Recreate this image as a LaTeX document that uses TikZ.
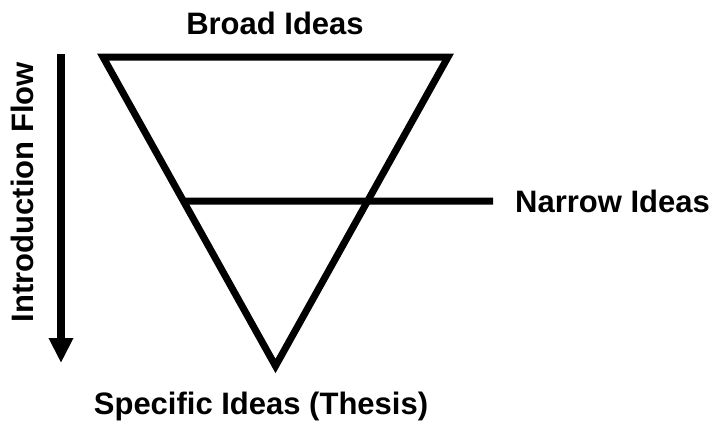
\documentclass[tikz,border=0pt]{standalone}
\usepackage{fontspec}
\setmainfont{Liberation Sans}
\usetikzlibrary{arrows.meta, positioning, calc}
\tikzset{
    label/.style={font=\fontsize{31}{36}\selectfont\bfseries, inner sep=0pt},
    funnel/.style={line width=7pt, line join=miter, draw=black},
    flow/.style={line width=7.5pt, -{Triangle[length=25pt,width=23pt]}, draw=black}
}

\begin{document}
\begin{tikzpicture}[x=1pt, y=1pt]
    \useasboundingbox (0,0) rectangle (716,-424);

    \coordinate (tl) at (103,-57);
    \coordinate (tr) at (448,-57);
    \coordinate (apex) at (275.5,-366);

    \draw [funnel] (tl) -- (tr) -- (apex) -- cycle;

    \coordinate (cutL) at ($(tl)!0.466!(apex)$);
    \coordinate (cutR) at (493,-201);
    \draw [funnel] (cutL) -- (cutR);

    \node (broad) [label] at (275,-23) {Broad Ideas};
    \node (narrow) [label, right=22pt of cutR] {Narrow Ideas};
    \node (thesis) [label] at (261,-406) {Specific Ideas (Thesis)};

    \coordinate (flowTop) at (61,-54);
    \coordinate (flowEnd) at (61,-363);
    \draw [flow] (flowTop) -- (flowEnd);
    \node (flowtxt) [label, rotate=90] at (22,-192) {Introduction Flow};
\end{tikzpicture}
\end{document}
